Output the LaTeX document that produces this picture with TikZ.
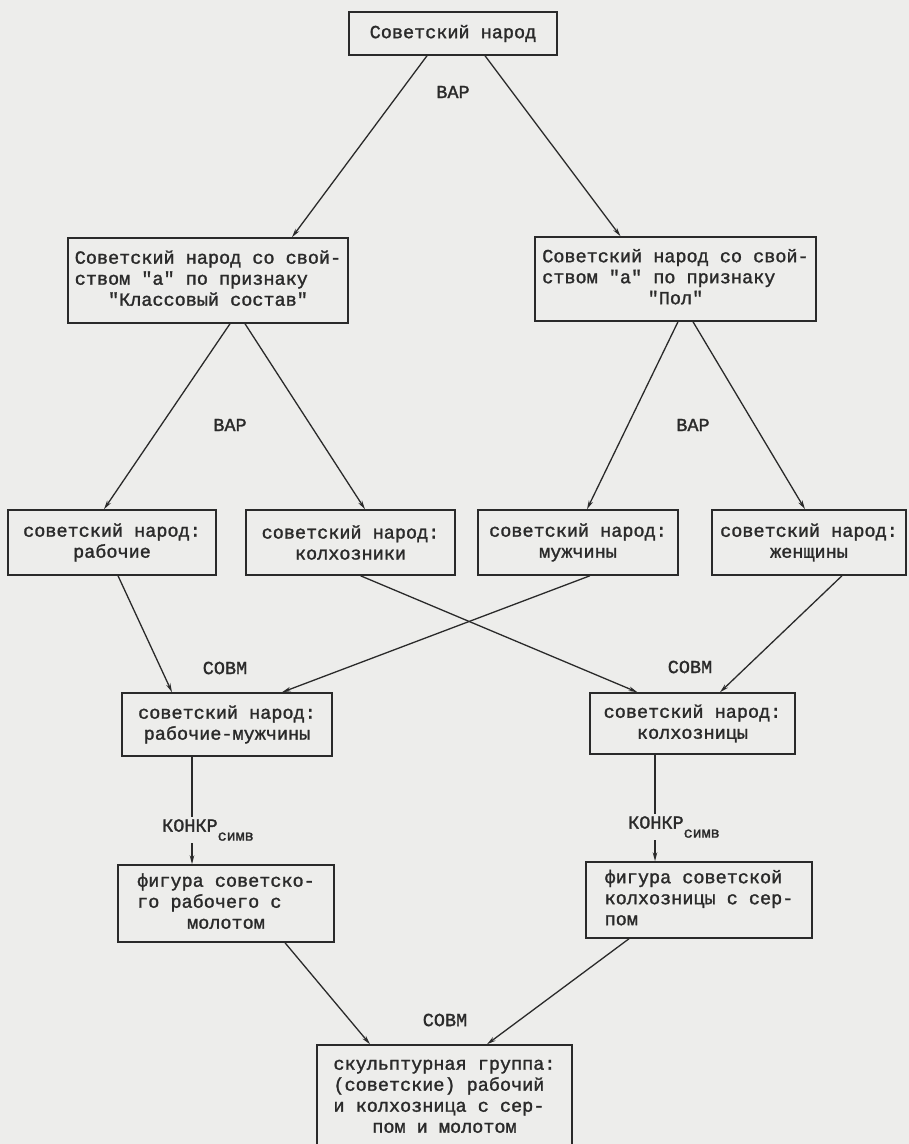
\documentclass[tikz,border=0pt]{standalone}
\usepackage{fontspec}
\newfontfamily\tw[FakeBold=1.5]{Liberation Mono}
\usetikzlibrary{arrows.meta,calc}
\definecolor{ink}{HTML}{2A2A2A}
\definecolor{paper}{HTML}{EDEDEB}
\tikzset{
  box/.style={draw=ink, line width=1.5pt, fill=paper, text=ink, inner sep=0pt, align=center},
  arr/.style={draw=ink, line width=1.3pt, -{Stealth[length=9pt,width=4.5pt]}},
  lbl/.style={text=ink, fill=paper, inner sep=2pt},
  every node/.style={font=\tw\fontsize{18.5}{21}\selectfont}
}
\newcommand{\subsym}{\raisebox{-9pt}{\fontsize{15}{15}\selectfont симв}}
\begin{document}
\begin{tikzpicture}[x=1pt,y=-1pt]
\fill[paper] (0,0) rectangle (909,1144);
\useasboundingbox (0,0) rectangle (909,1144);

% boxes
\node[box, minimum width=208pt, minimum height=43pt] (top) at (453,33.5) {Советский народ};

\node[box, minimum width=280pt, minimum height=85pt] (l2l) at (208,280.5)
  {\begin{tabular}{@{}l@{}}Советский народ со свой-\\ством "а" по признаку\\\multicolumn{1}{@{}c@{}}{"Классовый состав"}\end{tabular}};
\node[box, minimum width=281pt, minimum height=84pt] (l2r) at (675.5,279)
  {\begin{tabular}{@{}l@{}}Советский народ со свой-\\ством "а" по признаку\\\multicolumn{1}{@{}c@{}}{"Пол"}\end{tabular}};

\node[box, minimum width=208pt, minimum height=65pt] (rab) at (112,542.5) {советский народ:\\рабочие};
\node[box, minimum width=209pt, minimum height=65pt] (kol) at (350.5,542.5) {советский народ:\\колхозники};
\node[box, minimum width=200pt, minimum height=65pt] (muz) at (578,542.5) {советский народ:\\мужчины};
\node[box, minimum width=194pt, minimum height=65pt] (zhen) at (809,542.5) {советский народ:\\женщины};

\node[box, minimum width=210pt, minimum height=63pt] (rm) at (227,724.5) {советский народ:\\рабочие-мужчины};
\node[box, minimum width=205pt, minimum height=61pt] (kz) at (692.5,723.5) {советский народ:\\колхозницы};

\node[box, minimum width=216pt, minimum height=77pt] (fr) at (226,903.5)
  {\begin{tabular}{@{}l@{}}фигура советско-\\го рабочего с\\\multicolumn{1}{@{}c@{}}{молотом}\end{tabular}};
\node[box, minimum width=226pt, minimum height=76pt] (fk) at (699,900)
  {\begin{tabular}{@{}l@{}}фигура советской\\колхозницы с сер-\\пом\end{tabular}};

\node[box, minimum width=255pt, minimum height=104pt] (sg) at (444.5,1097)
  {\begin{tabular}{@{}l@{}}скульптурная группа:\\(советские) рабочий\\и колхозница с сер-\\\multicolumn{1}{@{}c@{}}{пом и молотом}\end{tabular}};

% connectors
\draw[arr] ([xshift=-26pt]top.south) -- ([xshift=84pt]l2l.north);
\draw[arr] ([xshift=32pt]top.south) -- ([xshift=-55pt]l2r.north);
\draw[arr] ([xshift=22pt]l2l.south) -- ([xshift=-8pt]rab.north);
\draw[arr] ([xshift=37pt]l2l.south) -- ([xshift=14.5pt]kol.north);
\draw[arr] ([xshift=2.5pt]l2r.south) -- ([xshift=9pt]muz.north);
\draw[arr] ([xshift=17.5pt]l2r.south) -- ([xshift=-4pt]zhen.north);
\draw[arr] ([xshift=6pt]rab.south) -- ([xshift=-55pt]rm.north);
\draw[arr] ([xshift=12pt]muz.south) -- ([xshift=55pt]rm.north);
\draw[arr] ([xshift=10pt]kol.south) -- ([xshift=-55pt]kz.north);
\draw[arr] ([xshift=33pt]zhen.south) -- ([xshift=27.5pt]kz.north);
\draw[arr] ([xshift=-35pt]rm.south) -- ([xshift=-34pt]fr.north);
\draw[arr] ([xshift=-37.5pt]kz.south) -- ([xshift=-44pt]fk.north);
\draw[arr] ([xshift=59pt]fr.south) -- ([xshift=-74.5pt]sg.north);
\draw[arr] ([xshift=-70pt]fk.south) -- ([xshift=42.5pt]sg.north);

% labels
\node[lbl] (v1) at (453,92) {ВАР};
\node[lbl] (v2) at (230,425) {ВАР};
\node[lbl] (v3) at (693,425) {ВАР};
\node[lbl] (s1) at (225,668) {СОВМ};
\node[lbl] (s2) at (690,667) {СОВМ};
\node[lbl] (s3) at (445,1020) {СОВМ};
\node[lbl, anchor=west] (k1) at (160,830) {КОНКР\subsym};
\node[lbl, anchor=west] (k2) at (626,827) {КОНКР\subsym};
\end{tikzpicture}
\end{document}
